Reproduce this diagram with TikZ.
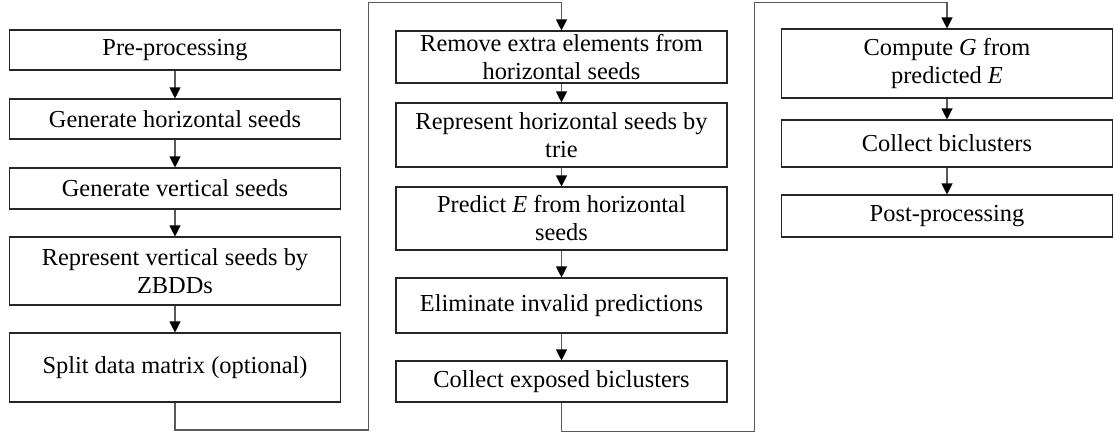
\documentclass[tikz,border=0pt]{standalone}
\usepackage{fontspec}
\setmainfont{Liberation Serif}
\usetikzlibrary{arrows.meta}

\begin{document}
\begin{tikzpicture}[x=1pt,y=-1pt,
  stepbox/.style={draw=black!85, line width=1.1pt, fill=white,
    align=center, inner sep=0pt, minimum width=331pt,
    font=\fontsize{24.4}{28}\selectfont},
  link/.style={draw=black!65, line width=1.1pt,
    -{Triangle[length=11pt,width=11pt,fill=black,color=black]}}]

  \useasboundingbox (0,0) rectangle (1114,434);

  % first column
  \node[stepbox, minimum height=40pt] (b1) at (175,50) {Pre-processing};
  \node[stepbox, minimum height=40pt] (b2) at (175,119) {Generate horizontal seeds};
  \node[stepbox, minimum height=41pt] (b3) at (175,188.5) {Generate vertical seeds};
  \node[stepbox, minimum height=68pt] (b4) at (175,271) {Represent vertical seeds by\\ZBDDs};
  \node[stepbox, minimum height=69pt] (b5) at (175,367.5) {Split data matrix (optional)};

  % second column
  \node[stepbox, minimum height=52pt] (b6) at (561.5,57) {Remove extra elements from\\horizontal seeds};
  \node[stepbox, minimum height=64pt] (b7) at (561.5,135) {Represent horizontal seeds by\\trie};
  \node[stepbox, minimum height=63pt] (b8) at (561.5,218.5) {Predict \textit{E} from horizontal\\seeds};
  \node[stepbox, minimum height=55pt] (b9) at (561.5,305.5) {Eliminate invalid predictions};
  \node[stepbox, minimum height=41pt] (b10) at (561.5,381.5) {Collect exposed biclusters};

  % third column
  \node[stepbox, minimum height=69pt] (b11) at (947,63.5) {Compute \textit{G} from\\predicted \textit{E}};
  \node[stepbox, minimum height=47pt] (b12) at (947,143.5) {Collect biclusters};
  \node[stepbox, minimum height=42pt] (b13) at (947,216) {Post-processing};

  % routing points of the column-to-column links
  \coordinate (r1) at (368.5,430);
  \coordinate (t1) at (368.5,2.5);
  \coordinate (r2) at (754.5,431.5);
  \coordinate (t2) at (754.5,2.5);

  % links within the columns
  \draw[link] (b1) -- (b2);
  \draw[link] (b2) -- (b3);
  \draw[link] (b3) -- (b4);
  \draw[link] (b4) -- (b5);
  \draw[link] (b6) -- (b7);
  \draw[link] (b7) -- (b8);
  \draw[link] (b8) -- (b9);
  \draw[link] (b9) -- (b10);
  \draw[link] (b11) -- (b12);
  \draw[link] (b12) -- (b13);

  % links between the columns
  \draw[link] (b5.south) |- (r1) -- (t1) -| (b6.north);
  \draw[link] (b10.south) |- (r2) -- (t2) -| (b11.north);
\end{tikzpicture}
\end{document}
